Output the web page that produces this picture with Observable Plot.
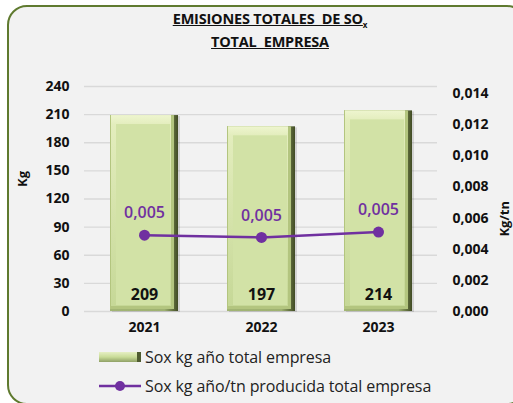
<!DOCTYPE html>
<html><head><meta charset="utf-8">
<script src="https://cdn.jsdelivr.net/npm/d3@7"></script>
<script src="https://cdn.jsdelivr.net/npm/@observablehq/plot@0.6"></script>
<style>
body{margin:0;background:#fff;font-family:"Open Sans",Lato,sans-serif;}
#wrap{position:relative;width:513px;height:403px;overflow:hidden;}
#frame{position:absolute;left:7px;top:5px;width:520px;height:400px;border:2px solid #5f7a2f;border-radius:20px;background:#f2f2f2;box-sizing:border-box;}
#title{position:absolute;left:0;width:540px;top:10px;text-align:center;font-weight:bold;font-size:14.5px;line-height:17px;color:#111;letter-spacing:-0.2px;}
#title span.u{text-decoration:underline;}
#chart{position:absolute;left:0;top:0;}
.leg{position:absolute;left:99px;font-size:16px;color:#222;display:flex;align-items:center;height:18px;letter-spacing:-0.1px;}
.leg svg{margin-right:4px;}
</style></head>
<body>
<div id="wrap">
  <div id="frame"></div>
  <div id="chart"></div>
  <div id="title"><span class="u">EMISIONES TOTALES&nbsp; DE SO<sub style="font-size:8px">x</sub></span><br><span class="u">TOTAL&nbsp; EMPRESA</span></div>
  <div class="leg" style="top:348px"><svg width="42" height="10"><defs><linearGradient id="lg1" x1="0" x2="0" y1="0" y2="1"><stop offset="0" stop-color="#e6efc4"/><stop offset="0.5" stop-color="#c9dc98"/><stop offset="1" stop-color="#8fa066"/></linearGradient></defs><rect x="0" y="0" width="42" height="10" fill="url(#lg1)"/><rect x="38" y="0" width="4" height="10" fill="#4f5c30"/></svg><span id="leg1"></span></div>
  <div class="leg" style="top:377px"><svg width="42" height="12"><line x1="0" x2="42" y1="6" y2="6" stroke="#7030a0" stroke-width="2.5"/><circle cx="21" cy="6" r="5" fill="#7030a0"/></svg><span id="leg2"></span></div>
</div>
<script>
const years = ["2021", "2022", "2023"];
const kgValues = [209, 197, 214];
const kgPerTnValues = [0.0049, 0.00476, 0.0051];
const kgPerTnLabels = ["0,005", "0,005", "0,005"];
const leftTicks = [0, 30, 60, 90, 120, 150, 180, 210, 240];
const rightTicks = [0, 0.002, 0.004, 0.006, 0.008, 0.010, 0.012, 0.014];
const seriesNames = ["Sox kg año total empresa", "Sox kg año/tn producida total empresa"];
const axisTitles = ["Kg", "Kg/tn"];

document.getElementById("leg1").textContent = seriesNames[0];
document.getElementById("leg2").textContent = seriesNames[1];

const K = 232.5 / 0.014; // secondary axis -> primary axis units
const bars = years.map((y, i) => ({year: y, value: kgValues[i]}));
const line = years.map((y, i) => ({year: y, v: kgPerTnValues[i] * K, label: kgPerTnLabels[i]}));
const fmt = d => (d / K).toFixed(3).replace(".", ",");

const chart = Plot.plot({
  width: 513, height: 345,
  marginLeft: 84, marginRight: 76, marginTop: 86, marginBottom: 34,
  style: {fontFamily: "'Open Sans', Lato, sans-serif", fontSize: "14px", fontWeight: "bold", color: "#111", background: "transparent", overflow: "visible"},
  x: {type: "band", domain: years, paddingInner: 0.42, paddingOuter: 0.21, label: null},
  y: {domain: [0, 240], label: null},
  marks: [
    Plot.gridY(leftTicks, {stroke: "#d9d9d9", strokeOpacity: 1, strokeWidth: 1.3}),
    Plot.axisY(leftTicks, {anchor: "left", tickSize: 0, tickPadding: 15, label: null}),
    Plot.axisY(rightTicks.map(d => d * K), {anchor: "right", tickSize: 0, tickPadding: 15, tickFormat: fmt, label: null}),
    Plot.axisX(years, {anchor: "bottom", tickSize: 0, tickPadding: 11, label: null}),
    Plot.text([axisTitles[0]], {frameAnchor: "left", dx: -62, dy: -12, rotate: -90, fontSize: 13}),
    Plot.text([axisTitles[1]], {frameAnchor: "right", dx: 67, dy: 2, rotate: -90, fontSize: 13}),
    // bevelled bars
    Plot.barY(bars, {x: "year", y: "value", fill: "#000", fillOpacity: 0.12, dx: 2, dy: 1}),
    Plot.barY(bars, {x: "year", y: "value", fill: "url(#edgeGrad)"}),
    Plot.barY(bars, {x: "year", y: "value", fill: "#b3c57f", insetRight: 4, insetBottom: 2}),
    Plot.barY(bars, {x: "year", y: "value", fill: "url(#topGrad)", insetLeft: 1, insetRight: 7, insetBottom: 5}),
    Plot.barY(bars, {x: "year", y: "value", fill: "#d2e2a6", insetLeft: 6, insetRight: 8, insetTop: 9, insetBottom: 6}),
    Plot.text(bars, {x: "year", y: 0, text: d => String(d.value), dy: -17, fontSize: 16, fill: "#111"}),
    Plot.line(line, {x: "year", y: "v", stroke: "#7030a0", strokeWidth: 2.5}),
    Plot.dot(line, {x: "year", y: "v", r: 5.5, fill: "#7030a0", stroke: "none"}),
    Plot.text(line, {x: "year", y: "v", text: "label", dy: -22, fill: "#7030a0", fontSize: 16, fontWeight: 600})
  ]
});

const ns = "http://www.w3.org/2000/svg";
const defs = document.createElementNS(ns, "defs");
defs.innerHTML = `
<linearGradient id="edgeGrad" x1="0" x2="1" y1="0" y2="0">
  <stop offset="0" stop-color="#a2b574"/><stop offset="0.8" stop-color="#9fb271"/><stop offset="0.9" stop-color="#6f7e48"/><stop offset="1" stop-color="#414b25"/>
</linearGradient>
<linearGradient id="topGrad" x1="0" x2="0" y1="0" y2="1">
  <stop offset="0" stop-color="#eef5cf"/><stop offset="0.05" stop-color="#e3edbd"/><stop offset="1" stop-color="#c6d897"/>
</linearGradient>`;
chart.insertBefore(defs, chart.firstChild);
document.getElementById("chart").appendChild(chart);
</script>
</body></html>
